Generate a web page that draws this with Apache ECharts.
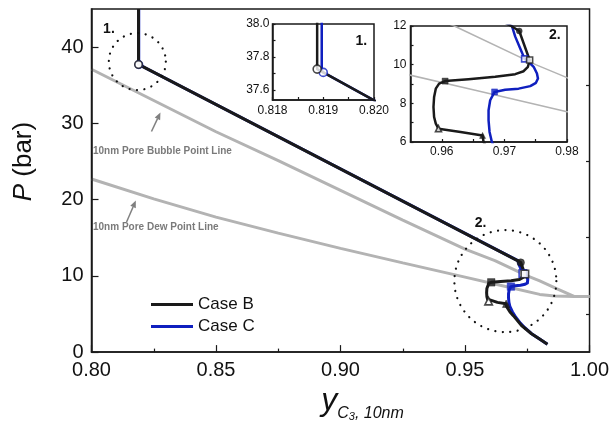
<!DOCTYPE html>
<html>
<head>
<meta charset="utf-8">
<script src="https://cdn.jsdelivr.net/npm/echarts@6/dist/echarts.min.js"></script>
<style>
  html, body { margin: 0; padding: 0; background: #fff; }
  #chart { width: 612px; height: 427px; }
</style>
</head>
<body>
<div id="chart"></div>
<script>
// Propane vapour mole fraction in a 10 nm pore versus pressure, two cases.

// Case B path [y_C3, P (bar)]
const caseB = [
  [0.81888, 45.0], [0.81888, 37.727], [0.81900, 37.707], [0.97109, 12.00],
  [0.97237, 11.74], [0.97403, 10.24], [0.97376, 9.89], [0.97307, 9.66],
  [0.97173, 9.51], [0.96853, 9.37], [0.96427, 9.25], [0.96053, 9.15],
  [0.95957, 9.02], [0.95904, 8.76], [0.95877, 8.33], [0.95867, 7.81],
  [0.95877, 7.29], [0.95904, 6.95], [0.95947, 6.69], [0.96300, 6.52],
  [0.96651, 6.34], [0.96667, 6.00], [0.96800, 5.30], [0.96940, 4.78],
  [0.97270, 3.49], [0.97670, 2.41], [0.98010, 1.68], [0.98310, 1.03]
];

// Case C path [y_C3, P (bar)]
const caseC = [
  [0.81897, 45.0], [0.81897, 37.72], [0.81900, 37.707], [0.97120, 12.00],
  [0.97173, 11.45], [0.97253, 10.84], [0.97323, 10.30], [0.97387, 10.15],
  [0.97467, 9.89], [0.97520, 9.54], [0.97536, 9.28], [0.97504, 9.06],
  [0.97413, 8.89], [0.97227, 8.76], [0.97013, 8.70], [0.96843, 8.59],
  [0.96773, 8.16], [0.96747, 7.64], [0.96747, 7.12], [0.96763, 6.52],
  [0.96800, 6.00], [0.96900, 5.30], [0.97030, 4.60], [0.97220, 3.80],
  [0.97400, 3.20], [0.97670, 2.41], [0.98010, 1.68], [0.98310, 1.03]
];

// 10 nm pore phase envelope
const bubbleLine = [
  [0.800, 37.1], [0.825, 33.0], [0.850, 28.9], [0.875, 25.1], [0.900, 21.2],
  [0.925, 17.3], [0.950, 13.5], [0.962, 12.0], [0.975, 10.0], [0.980, 9.33],
  [0.987, 8.3], [0.994, 7.28], [1.000, 7.28]
];
const dewLine = [
  [0.800, 22.7], [0.825, 20.1], [0.850, 17.7], [0.875, 15.6], [0.900, 13.6],
  [0.925, 11.7], [0.950, 9.83], [0.965, 8.7], [0.980, 7.57], [0.986, 7.37],
  [0.994, 7.28], [1.000, 7.28]
];

// state points along each path
const caseBStates = [
  [0.81888, 37.727], [0.97237, 11.74], [0.97403, 10.24],
  [0.96053, 9.15], [0.95947, 6.69], [0.96651, 6.34]
];
const caseCStates = [[0.81900, 37.707], [0.97323, 10.30], [0.96843, 8.59]];

// tick labels
const mainXTicks = [0.80, 0.85, 0.90, 0.95, 1.00];
const mainYTicks = [0, 10, 20, 30, 40];
const mainYMinor = [5, 15, 25, 35];
const inset1XTicks = [0.818, 0.819, 0.820];
const inset1XAll = [0.818, 0.8185, 0.819, 0.8195, 0.820];
const inset1YTicks = [37.6, 37.8, 38.0];
const inset1YAll = [37.6, 37.7, 37.8, 37.9, 38.0];
const inset2XTicks = [0.96, 0.97, 0.98];
const inset2XAll = [0.96, 0.965, 0.97, 0.975, 0.98];
const inset2YTicks = [6, 8, 10, 12];
const inset2YAll = [6, 7, 8, 9, 10, 11, 12];

const FONT = '"Liberation Sans", Arial, sans-serif';
const INK = '#1a1a1a';
const GRAY = '#b3b3b3';
const BLUE = '#0f1fbf';
// [shape, hollow]
const caseBShapes = [['circle', true], ['circle', false], ['rect', true], ['rect', false], ['triangle', true], ['triangle', false]];
const caseCShapes = [['circle', true], ['rect', true], ['rect', false]];

const chart = echarts.init(document.getElementById('chart'), null, { renderer: 'canvas' });

const frame = { lineStyle: { color: INK, width: 1.5 } };

function valueAxis(grid, min, max, labels, ticks, digits, fontSize, tickLen, margin) {
  return {
    type: 'value', gridIndex: grid, min: min, max: max,
    axisLine: Object.assign({ show: true, onZero: false }, frame),
    splitLine: { show: false },
    axisTick: { show: true, inside: true, length: tickLen, customValues: ticks, lineStyle: { color: INK, width: 1.2 } },
    axisLabel: { customValues: labels, fontSize: fontSize, fontFamily: FONT, color: '#111', margin: margin,
      formatter: v => Number(v).toFixed(digits) },
    z: 6
  };
}

const xAxes = [
  Object.assign(valueAxis(0, 0.8, 1.0, mainXTicks, mainXTicks, 2, 20, 7, 8), {
    interval: 0.05,
    minorTick: { show: true, splitNumber: 2, length: 3.5, lineStyle: { color: INK, width: 1.2 } },
    name: '{y|y}{c|C}{n|3}{c|, 10nm}',
    nameLocation: 'middle', nameGap: 27,
    nameTextStyle: {
      padding: [0, 0, 0, 44],
      rich: {
        y: { fontSize: 32, fontStyle: 'italic', fontFamily: FONT, color: '#111', padding: [0, 0, 5, 0], verticalAlign: 'bottom' },
        c: { fontSize: 16, fontStyle: 'italic', fontFamily: FONT, color: '#111', verticalAlign: 'bottom' },
        n: { fontSize: 11, fontStyle: 'italic', fontFamily: FONT, color: '#111', verticalAlign: 'bottom' }
      }
    }
  }),
  valueAxis(1, 0.818, 0.820, inset1XTicks, inset1XAll, 3, 12, 3, 5),
  valueAxis(2, 0.955, 0.98, inset2XTicks, inset2XAll, 2, 12, 3, 4)
];

const yAxes = [
  Object.assign(valueAxis(0, 0, 45, mainYTicks, mainYTicks, 0, 20, 7, 8), {
    name: '{i|P} (bar)',
    nameLocation: 'middle', nameGap: 55,
    nameTextStyle: {
      fontSize: 26, fontFamily: FONT, color: '#111',
      padding: [0, 0, 0, 38],
      rich: { i: { fontSize: 26, fontStyle: 'italic', fontFamily: FONT, color: '#111' } }
    }
  }),
  {
    type: 'value', gridIndex: 0, min: 0, max: 45,
    axisLine: { show: false }, splitLine: { show: false }, axisLabel: { show: false },
    axisTick: { show: true, inside: true, length: 3.5, customValues: mainYMinor, lineStyle: { color: INK, width: 1.2 } },
    z: 6
  },
  valueAxis(1, 37.54, 38.0, inset1YTicks, inset1YAll, 1, 12, 3, 3),
  valueAxis(2, 6, 12, inset2YTicks, inset2YAll, 0, 12, 3, 4)
];

const grids = [
  { left: 91.5, right: 21, top: 9, bottom: 70, show: true, borderColor: INK, borderWidth: 1.5, z: 0 },
  { left: 272.5, right: 238, top: 24, bottom: 327, show: true, borderColor: INK, borderWidth: 1.5, backgroundColor: '#fff', z: 5 },
  { left: 410.5, right: 45, top: 26, bottom: 285, show: true, borderColor: INK, borderWidth: 1.5, backgroundColor: '#fff', z: 5 }
];

// axis indices per panel
const panels = [
  { x: 0, y: 0, lw: 3, envW: 3, sym: 7.5, z: 2 },
  { x: 1, y: 2, lw: 2.5, envW: 1.5, sym: 8, z: 7 },
  { x: 2, y: 3, lw: 2.5, envW: 1.5, sym: 6, z: 7 }
];

function stateItems(points, shapes, color) {
  return points.map((v, i) => ({
    value: v,
    symbol: shapes[i][0],
    itemStyle: shapes[i][1]
      ? { color: '#fff', borderColor: color, borderWidth: 1.6 }
      : { color: color, borderColor: color, borderWidth: 0.5 }
  }));
}

const series = [];
panels.forEach(p => {
  const base = { xAxisIndex: p.x, yAxisIndex: p.y, animation: false, z: p.z, silent: true };
  series.push(Object.assign({}, base, {
    type: 'line', name: 'bubble', data: bubbleLine, showSymbol: false,
    lineStyle: { color: GRAY, width: p.envW }, itemStyle: { color: GRAY }
  }));
  series.push(Object.assign({}, base, {
    type: 'line', name: 'dew', data: dewLine, showSymbol: false,
    lineStyle: { color: GRAY, width: p.envW }, itemStyle: { color: GRAY }
  }));
  series.push(Object.assign({}, base, {
    type: 'line', name: 'Case C', data: caseC, showSymbol: false,
    lineStyle: { color: BLUE, width: p.lw, join: 'round' }, itemStyle: { color: BLUE }
  }));
  series.push(Object.assign({}, base, {
    type: 'line', name: 'Case B', data: caseB, showSymbol: false,
    lineStyle: { color: INK, width: p.lw, join: 'round' }, itemStyle: { color: INK }
  }));
  series.push(Object.assign({}, base, {
    type: 'scatter', name: 'Case C states', symbolSize: p.sym,
    data: stateItems(caseCStates, caseCShapes, BLUE)
  }));
  series.push(Object.assign({}, base, {
    type: 'scatter', name: 'Case B states', symbolSize: p.sym,
    data: stateItems(caseBStates, caseBShapes, INK)
  }));
});

chart.setOption({
  animation: false,
  backgroundColor: '#fff',
  grid: grids,
  xAxis: xAxes,
  yAxis: yAxes,
  legend: {
    data: [{ name: 'Case B' }, { name: 'Case C' }],
    orient: 'vertical', left: 146, top: 291, itemGap: 5,
    icon: 'rect', itemWidth: 42, itemHeight: 3,
    textStyle: { fontSize: 17, fontFamily: FONT, color: '#111' },
    selectedMode: false
  },
  series: series
});

// annotations placed in data space of each panel
const toPx = (xi, yi, v) => chart.convertToPixel({ xAxisIndex: xi, yAxisIndex: yi }, v);

const zoomRings = [
  { c: [0.8184, 38.1], r: 28.5 },
  { c: [0.9662, 9.31], r: 51 }
];
const ringTags = [
  { at: [0.8070, 42.4], text: '1.', panel: 0 },
  { at: [0.9562, 16.9], text: '2.', panel: 0 },
  { at: [0.81975, 37.894], text: '1.', panel: 1 },
  { at: [0.97805, 11.53], text: '2.', panel: 2 }
];
const lineNotes = [
  { at: [0.8006, 26.4], text: '10nm Pore Bubble Point Line', from: [0.82408, 28.93], to: [0.82768, 31.42] },
  { at: [0.8006, 16.4], text: '10nm Pore Dew Point Line', from: [0.81408, 17.07], to: [0.81780, 19.88] }
];

const graphics = [];
zoomRings.forEach(z => {
  const c = toPx(0, 0, z.c);
  graphics.push({
    type: 'circle', z: 20, silent: true,
    shape: { cx: c[0], cy: c[1], r: z.r },
    style: { fill: null, stroke: '#111', lineWidth: 2.2, lineDash: [0.1, 7.4], lineCap: 'round' }
  });
});
ringTags.forEach(t => {
  const p = panels[t.panel];
  const c = toPx(p.x, p.y, t.at);
  graphics.push({
    type: 'text', z: 20, silent: true, x: c[0], y: c[1],
    style: { text: t.text, font: 'bold 14px ' + FONT, fill: '#111', align: 'center', verticalAlign: 'middle' }
  });
});
lineNotes.forEach(n => {
  const c = toPx(0, 0, n.at);
  graphics.push({
    type: 'text', z: 20, silent: true, x: c[0], y: c[1],
    style: { text: n.text, font: 'bold 10px ' + FONT, fill: '#7a7a7a', align: 'left', verticalAlign: 'middle' }
  });
  const a = toPx(0, 0, n.from), b = toPx(0, 0, n.to);
  const dx = b[0] - a[0], dy = b[1] - a[1];
  const len = Math.hypot(dx, dy), ux = dx / len, uy = dy / len;
  const hl = 7, hw = 3;
  const bx = b[0] - ux * hl, by = b[1] - uy * hl;
  graphics.push({
    type: 'line', z: 20, silent: true,
    shape: { x1: a[0], y1: a[1], x2: bx, y2: by },
    style: { stroke: '#808080', lineWidth: 1.5 }
  });
  graphics.push({
    type: 'polygon', z: 20, silent: true,
    shape: { points: [[b[0], b[1]], [bx - uy * hw, by + ux * hw], [bx + uy * hw, by - ux * hw]] },
    style: { fill: '#808080' }
  });
});

chart.setOption({ graphic: graphics });
</script>
</body>
</html>
